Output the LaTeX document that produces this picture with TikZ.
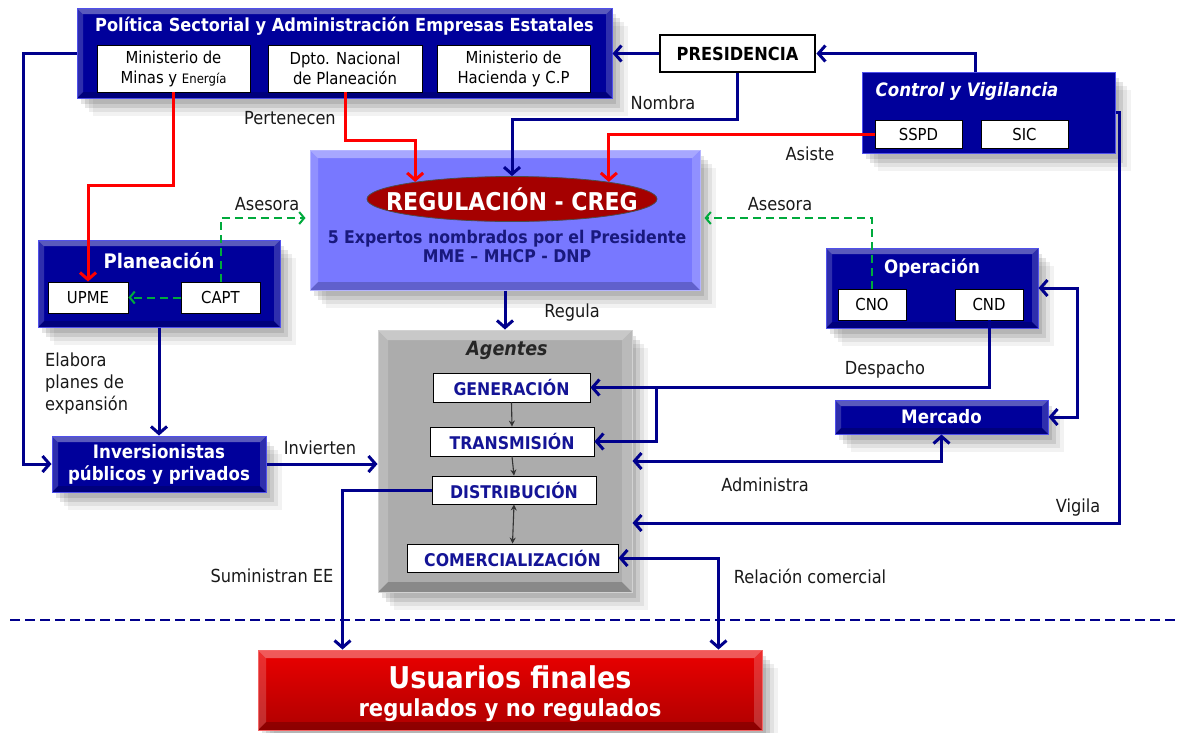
\documentclass[tikz,border=0pt]{standalone}
\usepackage{fontspec}
\setmainfont{DejaVu Sans}[FakeStretch=0.9]
\usetikzlibrary{arrows.meta,shapes.geometric,shadows,calc}

\definecolor{navybox}{RGB}{0,0,155}
\definecolor{navyline}{RGB}{0,0,140}
\definecolor{bevelblue}{RGB}{80,80,235}
\definecolor{cregfill}{RGB}{120,120,255}
\definecolor{cregtext}{RGB}{25,25,125}
\definecolor{agentgray}{RGB}{172,172,172}
\definecolor{agenttext}{RGB}{20,20,150}
\definecolor{ellred}{RGB}{165,0,0}
\definecolor{userlight}{RGB}{235,0,0}
\definecolor{userdark}{RGB}{175,0,0}
\definecolor{greenline}{RGB}{0,170,60}

\newcommand{\fsz}[2]{\fontsize{#1}{#2}\selectfont}

\tikzset{
  boxshadow/.style={
    drop shadow={shadow xshift=4pt, shadow yshift=-6pt, opacity=0.10, fill=black},
    drop shadow={shadow xshift=8pt, shadow yshift=-10pt, opacity=0.10, fill=black},
    drop shadow={shadow xshift=12pt, shadow yshift=-14pt, opacity=0.07, fill=black},
    drop shadow={shadow xshift=16pt, shadow yshift=-18pt, opacity=0.05, fill=black}},
  bevel/.style={path picture={
    \fill[white, opacity=0.35] (path picture bounding box.north west) -- (path picture bounding box.north east) -- ([shift={(-#1,-#1)}]path picture bounding box.north east) -- ([shift={(#1,-#1)}]path picture bounding box.north west) -- cycle;
    \fill[white, opacity=0.18] (path picture bounding box.north west) -- ([shift={(#1,-#1)}]path picture bounding box.north west) -- ([shift={(#1,#1)}]path picture bounding box.south west) -- (path picture bounding box.south west) -- cycle;
    \fill[white, opacity=0.18] (path picture bounding box.north east) -- ([shift={(-#1,-#1)}]path picture bounding box.north east) -- ([shift={(-#1,#1)}]path picture bounding box.south east) -- (path picture bounding box.south east) -- cycle;
    \fill[black, opacity=0.2] (path picture bounding box.south west) -- ([shift={(#1,#1)}]path picture bounding box.south west) -- ([shift={(-#1,#1)}]path picture bounding box.south east) -- (path picture bounding box.south east) -- cycle;
  }},
  bevel/.default=6pt,
  panel/.style={fill=navybox, draw=bevelblue, line width=1pt, inner sep=0pt, boxshadow, bevel},
  paneltitle/.style={text=white, font=\bfseries\fsz{18}{21}},
  whitebox/.style={fill=white, draw=black, line width=0.9pt, inner sep=0pt, align=center, font=\fsz{16.5}{20}},
  agentbox/.style={whitebox, text=agenttext, font=\bfseries\fsz{17.5}{20}},
  lbl/.style={font=\fsz{18}{21}, text=black!90, inner sep=1pt},
  conn/.style={draw=navyline, line width=3pt, -{Straight Barb[length=7pt,width=16pt]}},
  dconn/.style={conn, {Straight Barb[length=7pt,width=16pt]}-{Straight Barb[length=7pt,width=16pt]}},
  redconn/.style={draw=red, line width=3pt, -{Straight Barb[length=7pt,width=16pt]}},
  greenconn/.style={draw=greenline, line width=2pt, dash pattern=on 8pt off 5pt, -{Straight Barb[length=5pt,width=12pt]}},
  smallarrow/.style={draw=black!80, line width=1.1pt, -{Stealth[length=6pt,width=6pt]}},
}

\begin{document}
\begin{tikzpicture}[x=1pt,y=-1pt]
    \useasboundingbox (0,0) rectangle (1178,732);

    % Politica sectorial
    \node[panel, minimum width=535, minimum height=90] (pol) at (344.5,53) {};
    \node[paneltitle] (poltitle) at (344.5,26) {Política Sectorial y Administración Empresas Estatales};
    \node[whitebox, minimum width=153, minimum height=47] (minas) at (173.5,68.5) {Ministerio de\\Minas y {\fsz{13}{20}Energía}};
    \node[whitebox, minimum width=154, minimum height=47] (dnp) at (345,68.5) {Dpto. Nacional\\de Planeación};
    \node[whitebox, minimum width=153, minimum height=47] (mhcp) at (513.5,68.5) {Ministerio de\\Hacienda y C.P};

    % Presidencia
    \node[fill=white, draw=black, line width=2.8pt, minimum width=155, minimum height=37, inner sep=0pt, font=\bfseries\fsz{18}{21}] (pres) at (737.5,53.5) {PRESIDENCIA};

    % Control y vigilancia
    \node[panel, minimum width=253, minimum height=81, bevel=0pt] (cv) at (988.5,112.5) {};
    \node[paneltitle, font=\bfseries\itshape\fsz{18.5}{21}] (cvtitle) at (967,91) {Control y Vigilancia};
    \node[whitebox, minimum width=87, minimum height=28] (sspd) at (918.5,134) {SSPD};
    \node[whitebox, minimum width=87, minimum height=28] (sic) at (1024.5,134) {SIC};

    % Regulacion
    \node[fill=cregfill, draw=cregfill!55!white, line width=1pt, minimum width=390, minimum height=140, boxshadow, bevel=8pt] (creg) at (505,220) {};
    \node[ellipse, fill=ellred, draw=black!70, line width=0.8pt, minimum width=290, minimum height=45, inner sep=0pt] (cregell) at (512,199) {};
    \node[text=white, font=\bfseries\fsz{24.5}{28}] (cregtitle) at (cregell) {REGULACIÓN - CREG};
    \node[text=cregtext, font=\bfseries\fsz{17.5}{19}, align=center] (expertos) at (507,246.5) {5 Expertos nombrados por el Presidente\\MME – MHCP - DNP};

    % Planeacion
    \node[panel, minimum width=242, minimum height=87] (plan) at (159,283.5) {};
    \node[paneltitle, font=\bfseries\fsz{20}{23}] (plantitle) at (159,261) {Planeación};
    \node[whitebox, minimum width=80, minimum height=31] (upme) at (88,297.5) {UPME};
    \node[whitebox, minimum width=79, minimum height=31] (capt) at (220.5,297.5) {CAPT};

    % Operacion
    \node[panel, minimum width=212, minimum height=80] (oper) at (932,288) {};
    \node[paneltitle, font=\bfseries\fsz{18.5}{21}] (opertitle) at (932,268) {Operación};
    \node[whitebox, minimum width=68, minimum height=31] (cno) at (872,304.5) {CNO};
    \node[whitebox, minimum width=68, minimum height=31] (cnd) at (989,304.5) {CND};

    % Agentes
    \node[fill=agentgray, draw=gray!35, line width=1pt, minimum width=254, minimum height=262, boxshadow, bevel=10pt] (agentes) at (505,461) {};
    \node[font=\bfseries\itshape\fsz{19.5}{22}, text=black!85] (agtitle) at (507,350) {Agentes};
    \node[agentbox, minimum width=157, minimum height=29] (gen) at (511.5,387.5) {GENERACIÓN};
    \node[agentbox, minimum width=164, minimum height=29] (trans) at (512,441.5) {TRANSMISIÓN};
    \node[agentbox, minimum width=164, minimum height=28] (dist) at (514,490) {DISTRIBUCIÓN};
    \node[agentbox, minimum width=211, minimum height=28] (comer) at (512.5,558) {COMERCIALIZACIÓN};

    % Mercado e inversionistas
    \node[panel, minimum width=213, minimum height=34, paneltitle, font=\bfseries\fsz{18.5}{21}] (merc) at (941.5,417) {Mercado};
    \node[panel, minimum width=214, minimum height=56, paneltitle, align=center, font=\bfseries\fsz{18.5}{22}] (inv) at (159,464) {Inversionistas\\públicos y privados};

    % Usuarios finales
    \node[top color=userlight, bottom color=userdark, draw=userlight!60!white, line width=1pt, minimum width=504, minimum height=80, boxshadow, bevel=8pt] (usu) at (510,690) {};
    \node[text=white, font=\bfseries\fsz{30}{33}] (usutitle) at (510,677) {Usuarios finales};
    \node[text=white, font=\bfseries\fsz{23.5}{26}] (ususub) at (510,710) {regulados y no regulados};

    % Separator
    \draw[navyline, line width=1.2pt, dash pattern=on 10pt off 5pt] (10,620) -- (1178,620);

    % Connectors
    \draw[conn] (pres.west) -- (pres.west -| pol.east);
    \draw[conn] ($(cv.north west)!0.447!(cv.north east)$) |- (pres.east);
    \draw[conn] (pres.south) -- ++(0,46) -| (cregell.north);
    \draw[redconn] (minas.south) -- ++(0,93) -| (upme.north);
    \draw[redconn] (dnp.south) -- ++(0,48) -| (cregell.170);
    \draw[redconn] (sspd.west) -| (cregell.10);
    \draw[greenconn] (capt.west) -- (upme.east);
    \draw[greenconn] (capt.north) |- ($(creg.west)+(-4,-2)$);
    \draw[greenconn] (cno.north) |- ($(creg.east)+(4,-2)$);
    \draw[conn] (creg.south) -- (agentes.north);
    \draw[smallarrow] (gen.south) -- (trans.north);
    \draw[smallarrow] (trans.south) -- (dist.north);
    \draw[smallarrow, {Stealth[length=6pt,width=6pt]}-{Stealth[length=6pt,width=6pt]}] (dist.south) -- (comer.north);
    \draw[conn] (cnd.south) |- (gen.east);
    \coordinate (dsp) at ($(gen.east)+(66,0)$);
    \draw[conn] (dsp) |- (trans.east);
    \draw[dconn] (oper.east) -- ++(39,0) |- (merc.east);
    \draw[dconn] (agentes.east) -| (merc.south);
    \draw[conn] (cv.east) -- ++(4,0) |- ($(agentes.east)+(0,62)$);
    \draw[conn] (plan.south) -- (inv.north);
    \draw[conn] (pol.west) -- ++(-53,0) |- (inv.west);
    \draw[conn] (inv.east) -- (inv.east -| agentes.west);
    \draw[conn] (dist.west) -| ($(usu.north west)+(85,0)$);
    \draw[dconn] (comer.east) -| ($(usu.north east)+(-44,0)$);

    % Labels
    \node[lbl] (pertenecen) at (290,118) {Pertenecen};
    \node[lbl] (nombra) at (663,103) {Nombra};
    \node[lbl] (asiste) at (810,154) {Asiste};
    \node[lbl] (asesoraleft) at (267,204) {Asesora};
    \node[lbl] (asesoraright) at (780,204) {Asesora};
    \node[lbl] (regula) at (572,313) {Regula};
    \node[lbl, align=left, anchor=west, font=\fsz{18}{22}] (elabora) at (44,384) {Elabora\\planes de\\expansión};
    \node[lbl] (invierten) at (320,448) {Invierten};
    \node[lbl] (despacho) at (885,370) {Despacho};
    \node[lbl] (administra) at (765,485) {Administra};
    \node[lbl] (vigila) at (1078,508) {Vigila};
    \node[lbl] (suministran) at (272,576) {Suministran EE};
    \node[lbl] (relacion) at (810,576) {Relación comercial};
\end{tikzpicture}
\end{document}
